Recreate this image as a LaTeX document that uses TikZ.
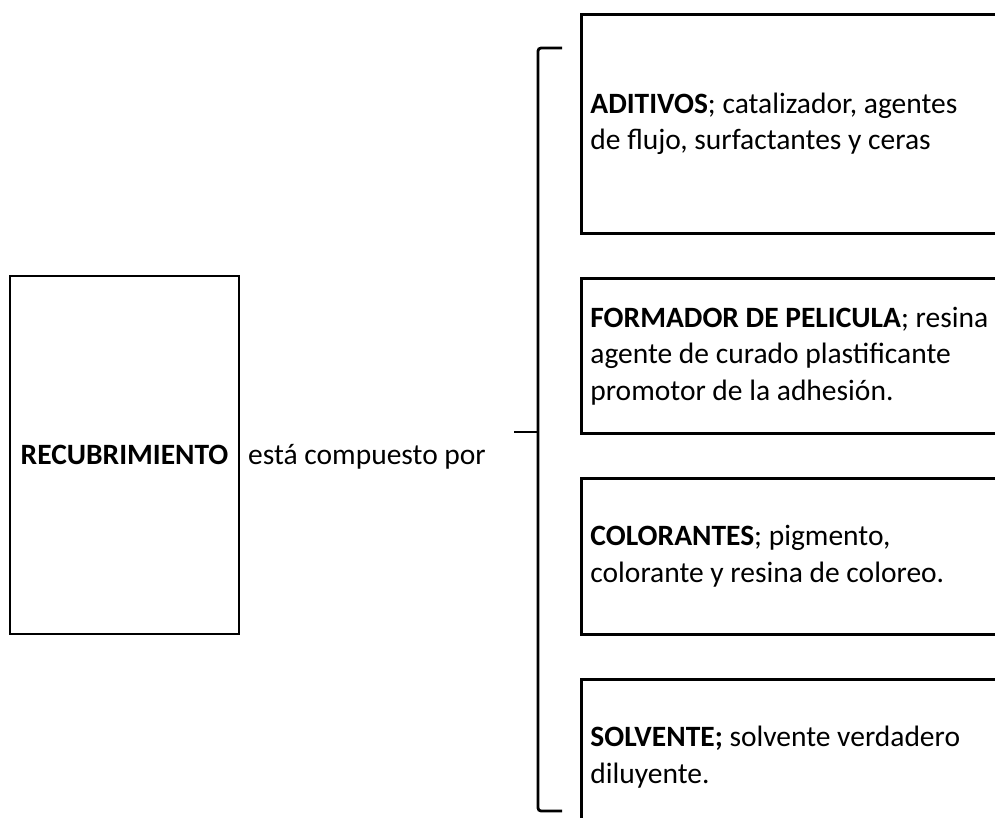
\documentclass[tikz,border=0pt]{standalone}
\usepackage{fontspec}
\setmainfont{Carlito}
\begin{document}
\begin{tikzpicture}[x=1pt,y=-1pt,
  line/.style={line width=2.8pt},
  mainbox/.style={draw, line width=2.8pt, inner sep=0pt, minimum width=229pt, minimum height=358pt,
    font=\bfseries\fontsize{29.5}{36}\selectfont},
  itembox/.style={draw, line width=2.8pt, anchor=north west, minimum width=440pt, text width=422pt,
    inner xsep=9pt, inner ysep=0pt, align=flush left, font=\fontsize{29.5}{36.5}\selectfont},
  plain/.style={inner sep=0pt, anchor=base west, font=\fontsize{29.5}{36}\selectfont},
]
\fill[white] (0,0) rectangle (995,817);
\clip (0,0) rectangle (995,817);
\node[mainbox] (rec) at (124.5,455) {RECUBRIMIENTO};
\node[plain] (comp) at (248,464) {está compuesto por};

\node[itembox, minimum height=219pt] (adit) at (580,13)
  {\textbf{ADITIVOS}; catalizador, agentes\\de flujo, surfactantes y ceras};
\node[itembox, minimum height=155pt] (form) at (580,277)
  {\textbf{FORMADOR DE PELICULA}; resina\\agente de curado plastificante\\promotor de la adhesión.};
\node[itembox, minimum height=156pt] (colo) at (580,477)
  {\textbf{COLORANTES}; pigmento,\\colorante y resina de coloreo.};
\node[itembox, minimum height=155pt] (solv) at (580,678)
  {\textbf{SOLVENTE;} solvente verdadero\\diluyente.};

\coordinate (btopend) at (562,48);
\coordinate (btop) at (538,48);
\coordinate (bmid) at (538,432);
\coordinate (btip) at (514,432);
\coordinate (bbot) at (538,811);
\coordinate (bbotend) at (562,811);
\draw[line, rounded corners=3pt] (btopend) -- (btop) -- (bbot) -- (bbotend);
\draw[line] (btip) -- (bmid);
\end{tikzpicture}
\end{document}
